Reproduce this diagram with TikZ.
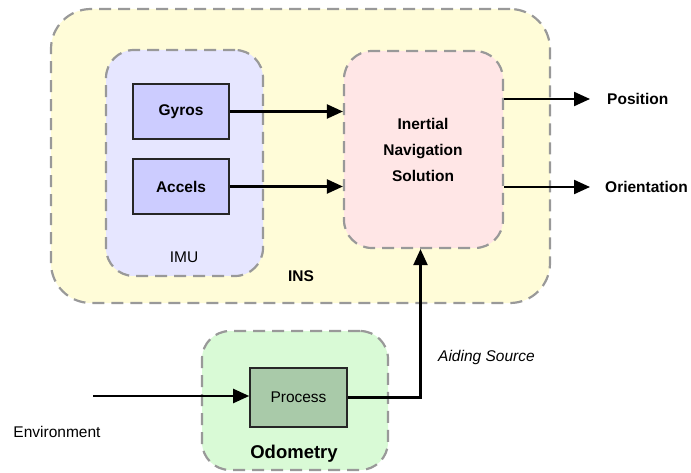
\documentclass[tikz,border=0pt]{standalone}
\usepackage{fontspec}
\setmainfont{Liberation Sans}
\usepackage{tikz}
\usetikzlibrary{arrows.meta}
\usetikzlibrary{positioning}

\definecolor{insfill}{HTML}{FFFCD8}
\definecolor{imufill}{HTML}{E6E6FF}
\definecolor{sensfill}{HTML}{CCCCFF}
\definecolor{navfill}{HTML}{FFE6E6}
\definecolor{odofill}{HTML}{D9FAD6}
\definecolor{procfill}{HTML}{A9CAA9}
\definecolor{edgegray}{HTML}{999999}

\newcommand{\diagfont}{\fontsize{15.5}{26}\selectfont}

\tikzset{
    groupbox/.style={draw=edgegray, line width=2.2pt, dash pattern=on 12pt off 7pt,
        rounded corners=#1, inner sep=0pt},
    sensorbox/.style={draw=black!85, line width=1.6pt, fill=sensfill, inner sep=0pt,
        minimum width=96pt, minimum height=55pt, font=\diagfont\bfseries},
    flow/.style={line width=2.2pt, -{Triangle[length=16pt,width=14pt]}}
}

\begin{document}
\begin{tikzpicture}[x=1pt,y=-1pt,every node/.style={font=\diagfont}]
    \useasboundingbox (0,0) rectangle (691,473);
    % outer groups
    \node[groupbox=40pt, fill=insfill, minimum width=499pt, minimum height=294pt] (ins) at (300.5,156) {};
    \node[groupbox=28pt, fill=imufill, minimum width=157pt, minimum height=226pt] (imu) at (184.5,163) {};
    \node[groupbox=28pt, fill=navfill, minimum width=159pt, minimum height=197pt] (nav) at (423.5,149.5) {};
    \node[groupbox=28pt, fill=odofill, minimum width=186pt, minimum height=139pt] (odo) at (295,400.5) {};
    % blocks
    \node[sensorbox] (gyros) at (181,111.5) {Gyros};
    \node[sensorbox] (accels) at (181,186.5) {Accels};
    \node[sensorbox, fill=procfill, font=\diagfont, minimum width=97pt, minimum height=59pt] (proc) at (298.5,397.5) {Process};
    \node[align=center, font=\diagfont\bfseries] (navtxt) at (423,150) {Inertial\\Navigation\\Solution};
    % labels
    \node (imulbl) at (184,257) {IMU};
    \node[font=\diagfont\bfseries] (inslbl) at (301,276) {INS};
    \node[font=\fontsize{18.5}{22}\selectfont\bfseries] (odolbl) at (294,454) {Odometry};
    \node[inner sep=0pt] (env) at (57,432) {Environment};
    \node[anchor=west, inner sep=0pt, font=\diagfont\bfseries] (pos) at (607,99) {Position};
    \node[anchor=west, inner sep=0pt, font=\diagfont\bfseries] (orient) at (605,187) {Orientation};
    \node[anchor=west, inner sep=0pt, font=\diagfont\itshape] (aid) at (438,357) {Aiding Source};
    \coordinate (envstart) at (93,396);
    % connectors
    \draw[flow] (gyros.east) -- (gyros.east -| nav.west);
    \draw[flow] (accels.east) -- (accels.east -| nav.west);
    \draw[flow] (nav.east |- pos) -- ([xshift=-17pt]pos.west);
    \draw[flow] (nav.east |- orient) -- ([xshift=-15pt]orient.west);
    \draw[flow] (envstart) -- (envstart -| proc.west);
    \draw[flow] (proc.east) -| ([xshift=-3pt]nav.south);
\end{tikzpicture}
\end{document}
